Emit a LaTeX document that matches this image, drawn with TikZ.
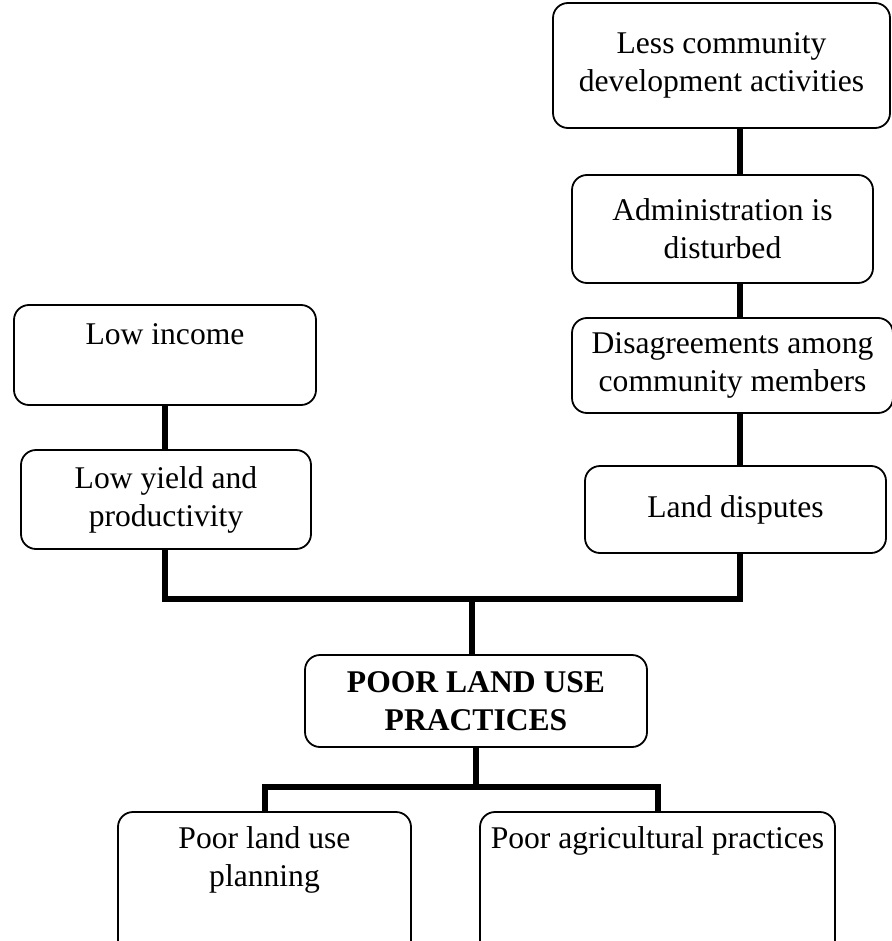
\documentclass[tikz,border=0pt]{standalone}
\usepackage{fontspec}
\setmainfont{Liberation Serif}

\tikzset{
	box/.style={
		draw,
		rounded corners=7.5pt,
		line width=0.9pt,
		align=center,
		inner sep=2pt,
		font=\fontsize{15.8}{19}\selectfont
	},
	link/.style={
		line width=3pt
	}
}

\begin{document}
\begin{tikzpicture}[x=0.5pt, y=-0.5pt]
	\useasboundingbox (0,0) rectangle (892,941);

	% Right-hand chain of effects
	\node[box, minimum width=168.5pt, minimum height=62.5pt] (less) at (721.5,65.5) {Less community\\development activities};
	\node[box, minimum width=150.5pt, minimum height=54pt] (admin) at (722.5,229) {Administration is\\disturbed};
	\node[box, minimum width=160.5pt, minimum height=47.5pt] (disagree) at (732.5,365.5) {Disagreements among\\community members};
	\node[box, minimum width=150.5pt, minimum height=43.5pt] (landdisp) at (735.5,509.5) {Land disputes};

	% Left-hand chain of effects
	\node[box, inner sep=0pt] (lowinc) at (165,355) {\parbox[c][50pt][t]{151pt}{\centering\rule{0pt}{19.5pt}Low income}};
	\node[box, minimum width=145pt, minimum height=49.5pt] (lowyield) at (166,499.5) {Low yield and\\productivity};

	% Core problem
	\node[box, minimum width=171pt, minimum height=46pt, font=\fontsize{15.8}{19}\selectfont\bfseries] (poor) at (476,701) {POOR LAND USE\\PRACTICES};

	% Causes
	\node[box, inner sep=0pt] (plan) at (264.5,883.5) {\parbox[c][71.5pt][t]{146.5pt}{\centering\rule{0pt}{18pt}Poor land use\\planning}};
	\node[box, inner sep=0pt] (agri) at (657.5,883.5) {\parbox[c][71.5pt][t]{177.5pt}{\centering\rule{0pt}{18pt}Poor agricultural practices}};

	% Connectors
	\coordinate (trunk) at (740,0);
	\coordinate (join) at (472,599);
	\coordinate (split) at (476,787);

	\draw[link] (less.south -| trunk) -- (admin.north -| trunk);
	\draw[link] (admin.south -| trunk) -- (disagree.north -| trunk);
	\draw[link] (disagree.south -| trunk) -- (landdisp.north -| trunk);
	\draw[link] (lowinc.south) -- (lowinc.south |- lowyield.north);

	\draw[link] (lowinc.south |- lowyield.south) |- (join) -| (landdisp.south -| trunk);
	\draw[link] (join) -- (join |- poor.north);

	\draw[link] (poor.south) -- (split);
	\draw[link] (plan.north) |- (split) -| (agri.north);
\end{tikzpicture}
\end{document}
